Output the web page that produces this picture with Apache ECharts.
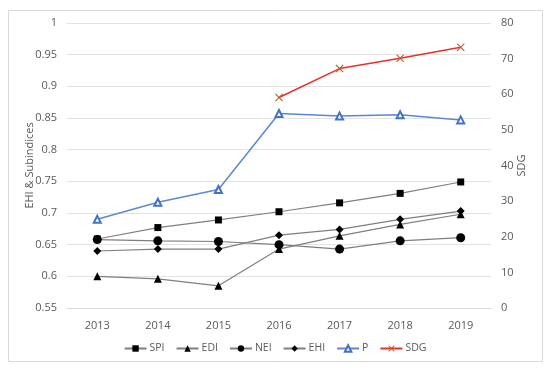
<!DOCTYPE html>
<html><head><meta charset="utf-8">
<script src="https://cdn.jsdelivr.net/npm/echarts@6/dist/echarts.min.js"></script>
<style>html,body{margin:0;padding:0;background:#fff}#c{width:550px;height:370px}</style>
</head><body><div id="c"></div>
<script>
var years = ['2013','2014','2015','2016','2017','2018','2019'];
var SPI = [0.659, 0.677, 0.689, 0.702, 0.716, 0.731, 0.749];
var EDI = [0.600, 0.596, 0.585, 0.643, 0.664, 0.682, 0.698];
var NEI = [0.658, 0.656, 0.655, 0.650, 0.643, 0.656, 0.661];
var EHI = [0.640, 0.643, 0.643, 0.665, 0.674, 0.690, 0.703];
var P   = [0.690, 0.717, 0.737, 0.857, 0.853, 0.855, 0.847];
var SDG = [null, null, null, 59.1, 67.2, 70.1, 73.2];

var font = '"Open Sans", sans-serif';
var txt = '#595959';
var X = 'path://M0,1L1,0L5,4L9,0L10,1L6,5L10,9L9,10L5,6L1,10L0,9L4,5Z';

function blk(name, data, sym, size) {
  return {name: name, type: 'line', data: data, symbol: sym, symbolSize: size,
    yAxisIndex: 0,
    lineStyle: {color: '#7f7f7f', width: 1.2},
    itemStyle: {color: '#000'}, z: 2};
}

var chart = echarts.init(document.getElementById('c'));
chart.setOption({
  animation: false,
  textStyle: {fontFamily: font},
  graphic: [{type: 'rect', shape: {x: 8.5, y: 10.5, width: 534, height: 351},
    style: {fill: 'none', stroke: '#d9d9d9', lineWidth: 1}, silent: true, z: -1}],
  grid: {left: 67, right: 59, top: 23, bottom: 62},
  legend: {
    top: 338, left: 'center', itemWidth: 22, itemHeight: 8, itemGap: 11,
    textStyle: {color: txt, fontSize: 10.5, fontFamily: font, padding: [0, 0, 0, -2]},
    data: ['SPI', 'EDI', 'NEI', 'EHI', 'P', 'SDG']
  },
  xAxis: {
    type: 'category', data: years, boundaryGap: true,
    axisLine: {show: true, lineStyle: {color: '#d9d9d9'}},
    axisTick: {show: false},
    axisLabel: {color: txt, fontSize: 11, margin: 12}
  },
  yAxis: [{
    type: 'value', min: 0.55, max: 1, interval: 0.05,
    name: 'EHI & Subindices', nameLocation: 'middle', nameGap: 32, nameRotate: 90,
    nameMoveOverlap: false,
    nameTextStyle: {color: txt, fontSize: 11},
    axisLine: {show: false}, axisTick: {show: false},
    axisLabel: {color: txt, fontSize: 11, margin: 10,
      formatter: function (v) { return parseFloat(v.toFixed(2)).toString(); }},
    splitLine: {lineStyle: {color: '#e3e3e3'}}
  }, {
    type: 'value', min: 0, max: 80, interval: 10, position: 'right',
    name: 'SDG', nameLocation: 'middle', nameGap: 25, nameRotate: 90,
    nameMoveOverlap: false,
    nameTextStyle: {color: txt, fontSize: 11},
    axisLine: {show: false}, axisTick: {show: false},
    axisLabel: {color: txt, fontSize: 11, margin: 10},
    splitLine: {show: false}
  }],
  series: [
    blk('SPI', SPI, 'rect', 7),
    blk('EDI', EDI, 'triangle', 8),
    blk('NEI', NEI, 'circle', 9),
    blk('EHI', EHI, 'diamond', 8),
    {name: 'P', type: 'line', data: P, yAxisIndex: 0, symbol: 'emptyTriangle', symbolSize: 7,
      lineStyle: {color: '#5b87d6', width: 1.5},
      itemStyle: {color: '#4472c4', borderWidth: 1.2}, z: 3},
    {name: 'SDG', type: 'line', data: SDG, yAxisIndex: 1, symbol: X, symbolSize: 8,
      lineStyle: {color: '#e8302a', width: 1.5},
      itemStyle: {color: '#c0602a'}, z: 3}
  ]
});
</script></body></html>
